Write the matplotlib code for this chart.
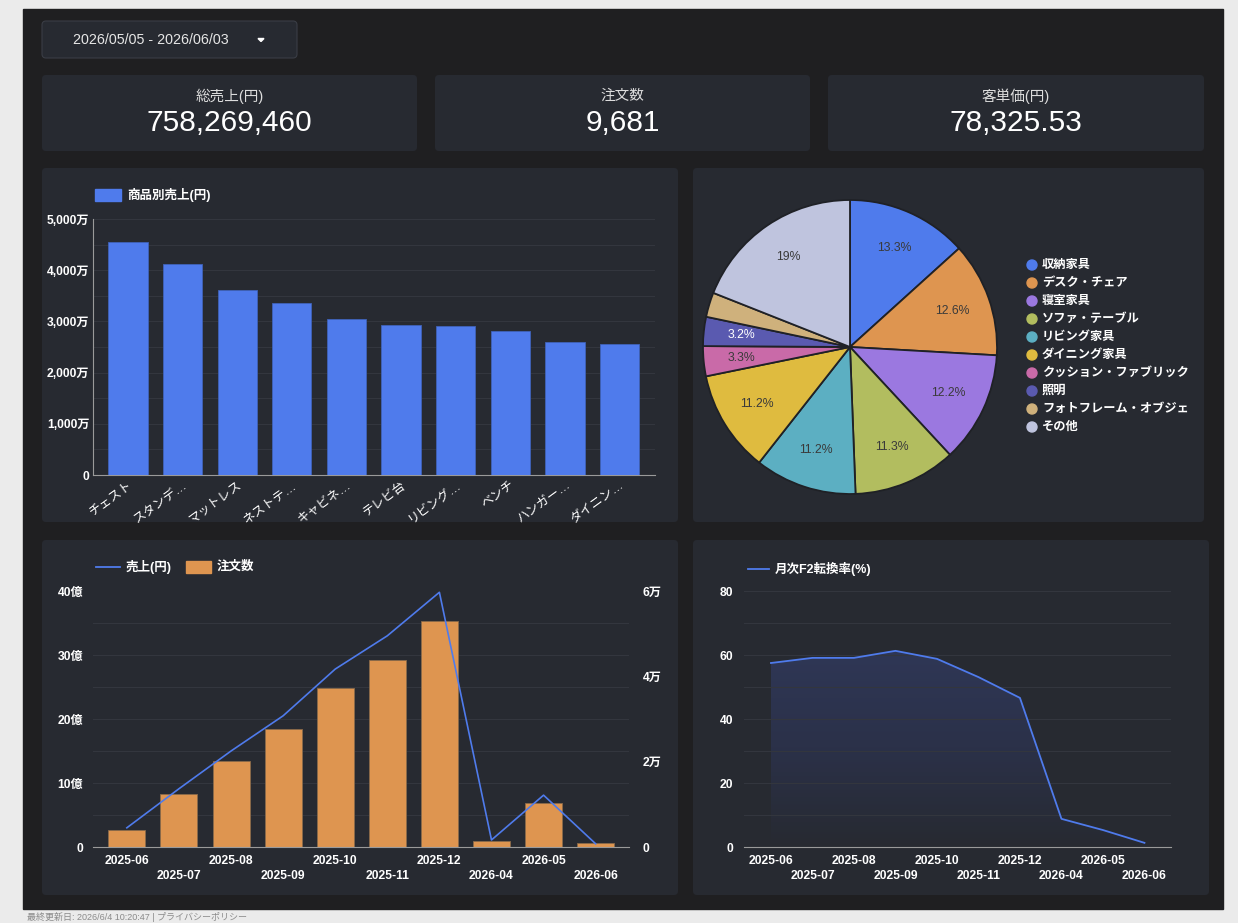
import numpy as np
import matplotlib
matplotlib.use('Agg')
import matplotlib.pyplot as plt
from matplotlib.patches import FancyBboxPatch, Rectangle, Polygon, Circle
from matplotlib.colors import LinearSegmentedColormap
from matplotlib.ticker import FuncFormatter, MultipleLocator

plt.rcParams['font.family'] = ['Liberation Sans', 'Noto Sans CJK JP', 'DejaVu Sans']

W, H = 1238, 923
PAGE = '#ebebeb'
DASH = '#1f1f21'
CARD = '#272a31'
GRID = '#33363e'
AXIS = '#9a9a9a'
BLUE = '#4f7bec'
ORANGE = '#de9550'

# --- data ---
date_range = '2026/05/05 - 2026/06/03'
kpi_titles = ['総売上(円)', '注文数', '客単価(円)']
kpi_values = ['758,269,460', '9,681', '78,325.53']

products = ['チェスト', 'スタンデ…', 'マットレス', 'ネストテ…', 'キャビネ…',
            'テレビ台', 'リビング…', 'ベンチ', 'ハンガー…', 'ダイニン…']
product_sales = [4550, 4120, 3610, 3360, 3050, 2930, 2910, 2810, 2600, 2560]  # 万円

categories = ['収納家具', 'デスク・チェア', '寝室家具', 'ソファ・テーブル', 'リビング家具',
              'ダイニング家具', 'クッション・ファブリック', '照明', 'フォトフレーム・オブジェ', 'その他']
category_share = [13.3, 12.6, 12.2, 11.3, 11.2, 11.2, 3.3, 3.2, 2.7, 19.0]
category_colors = ['#4f7bec', '#de9550', '#9b78e0', '#b2bd5f', '#5cafc2',
                   '#dfbb3f', '#c96aa8', '#5a5ab0', '#cfb17c', '#bfc4de']

months = ['2025-06', '2025-07', '2025-08', '2025-09', '2025-10',
          '2025-11', '2025-12', '2026-04', '2026-05', '2026-06']
monthly_sales = [3.0, 9.1, 15.0, 20.5, 27.8, 33.0, 39.8, 1.1, 8.1, 0.5]  # 億円
monthly_orders = [3980, 12400, 20200, 27700, 37300, 43800, 53000, 1400, 10300, 940]
f2_rate = [57.5, 59.1, 59.1, 61.3, 58.8, 53.1, 46.6, 8.8, 5.3, 1.3]

footer = '最終更新日: 2026/6/4 10:20:47 | プライバシーポリシー'


def rect(x0, y0, x1, y1):
    return [x0 / W, 1 - y1 / H, (x1 - x0) / W, (y1 - y0) / H]


def bold_ticks(ax, size=8.5):
    ax.tick_params(colors='white', length=0, labelsize=size)
    for lbl in ax.get_xticklabels() + ax.get_yticklabels():
        lbl.set_fontweight('bold')


fig = plt.figure(figsize=(W / 100, H / 100), dpi=100, facecolor=PAGE)

# background layer in pixel coordinates
bg = fig.add_axes([0, 0, 1, 1])
bg.set_xlim(0, W)
bg.set_ylim(H, 0)
bg.axis('off')
bg.add_patch(Rectangle((23, 9), 1200, 900, color=DASH))


def card(x0, y0, x1, y1, ec='none'):
    bg.add_patch(FancyBboxPatch((x0, y0), x1 - x0, y1 - y0,
                                boxstyle='round,pad=0,rounding_size=4',
                                fc=CARD, ec=ec, lw=0.8))


# date selector
card(42, 21, 297, 58, ec='#3a3d45')
bg.text(151, 40, date_range, color='#e6e6e6', fontsize=10.3, ha='center', va='center')
bg.add_patch(Polygon([[258, 38.5], [264, 38.5], [261, 41.5]], color='white'))

# KPI cards
for (x0, x1), t, v in zip([(42, 417), (435, 810), (828, 1204)], kpi_titles, kpi_values):
    card(x0, 75, x1, 151)
    cx = (x0 + x1) / 2
    bg.text(cx, 96, t, color='#dddddd', fontsize=10.5, ha='center', va='center')
    bg.text(cx, 123, v, color='white', fontsize=21.5, ha='center', va='center')

# chart cards
card(42, 168, 678, 522)
card(693, 168, 1204, 522)
card(42, 540, 678, 895)
card(693, 540, 1209, 895)

# --- product bar chart ---
ax1 = fig.add_axes(rect(93, 219, 655, 475))
ax1.set_facecolor('none')
x = np.arange(len(products))
ax1.bar(x, product_sales, width=0.72, color=BLUE, edgecolor='#3f62b8', lw=0.6, zorder=3)
ax1.set_xlim(-0.64, 9.65)
ax1.set_ylim(0, 5000)
ax1.yaxis.set_major_locator(MultipleLocator(1000))
ax1.yaxis.set_minor_locator(MultipleLocator(500))
ax1.yaxis.set_major_formatter(FuncFormatter(lambda v, p: '0' if v == 0 else f'{v:,.0f}万'))
ax1.grid(axis='y', which='both', color=GRID, lw=0.8, zorder=0)
ax1.set_xticks(x)
ax1.set_xticklabels(products, rotation=36, ha='right', rotation_mode='anchor')
for s in ['top', 'right']:
    ax1.spines[s].set_visible(False)
for s in ['left', 'bottom']:
    ax1.spines[s].set_color(AXIS)
bold_ticks(ax1, 8.7)
ax1.tick_params(axis='y', which='both', length=0, pad=2.5)
ax1.tick_params(axis='x', pad=3, labelsize=9)
for lbl in ax1.get_xticklabels():
    lbl.set_fontweight('normal')

bg.add_patch(Rectangle((95, 189), 26, 12, color=BLUE))
bg.text(127, 195, '商品別売上(円)', color='white', fontsize=9, fontweight='bold', va='center')

# --- category pie ---
ax2 = fig.add_axes(rect(703, 200, 997, 494))


def pct_label(p):
    if p < 3:
        return ''
    return f'{p:.0f}%' if abs(p - round(p)) < 0.05 else f'{p:.1f}%'


wedges, texts, autotexts = ax2.pie(category_share, colors=category_colors, startangle=90,
                                   counterclock=False, autopct=pct_label, pctdistance=0.74,
                                   wedgeprops=dict(edgecolor='#1f2126', linewidth=1.3),
                                   textprops=dict(fontsize=8.8, color='#3a3a3a'))
autotexts[7].set_color('white')
ax2.set_xlim(-1, 1)
ax2.set_ylim(-1, 1)

for i, (name, col) in enumerate(zip(categories, category_colors)):
    yy = 265 + 18 * i
    bg.add_patch(Circle((1032, yy), 5, color=col))
    bg.text(1042, yy, name, color='white', fontsize=8.8, fontweight='bold', va='center')

# --- monthly sales / orders ---
ax3 = fig.add_axes(rect(93, 591, 629, 847))
ax3b = ax3.twinx()
xm = np.arange(len(months))
ax3b.bar(xm, monthly_orders, width=0.71, color=ORANGE, edgecolor='#8a6a4a', lw=0.6, zorder=3)
ax3.plot(xm, monthly_sales, color=BLUE, lw=1.2, zorder=4)
ax3.set_zorder(ax3b.get_zorder() + 1)
ax3.patch.set_visible(False)
ax3b.set_facecolor('none')
ax3.set_xlim(-0.65, 9.64)
ax3.set_ylim(0, 40)
ax3b.set_ylim(0, 60000)
ax3.yaxis.set_major_locator(MultipleLocator(10))
ax3.yaxis.set_major_formatter(FuncFormatter(lambda v, p: '0' if v == 0 else f'{v:.0f}億'))
ax3b.yaxis.set_major_locator(MultipleLocator(20000))
ax3b.yaxis.set_minor_locator(MultipleLocator(7500))
ax3b.yaxis.set_major_formatter(FuncFormatter(lambda v, p: '0' if v == 0 else f'{v / 10000:.0f}万'))
ax3b.grid(axis='y', which='minor', color=GRID, lw=0.8, zorder=0)
ax3.set_xticks(xm)
ax3.set_xticklabels([m if i % 2 == 0 else '\n' + m for i, m in enumerate(months)], linespacing=1.35)
for a in (ax3, ax3b):
    for s in a.spines.values():
        s.set_visible(False)
ax3.spines['bottom'].set_visible(True)
ax3.spines['bottom'].set_color(AXIS)
bold_ticks(ax3, 8.7)
bold_ticks(ax3b, 8.7)
ax3.tick_params(axis='y', pad=7)
ax3.tick_params(axis='x', pad=6)
ax3b.tick_params(axis='y', which='both', length=0, pad=10)

bg.plot([96, 120], [567, 567], color=BLUE, lw=1.3)
bg.text(126, 567, '売上(円)', color='white', fontsize=9, fontweight='bold', va='center')
bg.add_patch(Rectangle((186, 561), 25, 12, color=ORANGE))
bg.text(217, 567, '注文数', color='white', fontsize=9, fontweight='bold', va='center')

# --- F2 conversion rate ---
ax4 = fig.add_axes(rect(744, 591, 1171, 847))
ax4.set_facecolor('none')
fill = ax4.fill_between(xm, f2_rate, color='none', lw=0)
cmap = LinearSegmentedColormap.from_list('f2', [CARD, '#2b3149', '#2f3756'])
grad = ax4.imshow(np.linspace(0, 1, 256).reshape(-1, 1), extent=[-0.65, 9.64, 0, 62],
                  origin='lower', aspect='auto', cmap=cmap, zorder=1)
grad.set_clip_path(fill.get_paths()[0], transform=ax4.transData)
ax4.set_xlim(-0.65, 9.64)
ax4.set_ylim(0, 80)
ax4.plot(xm, f2_rate, color=BLUE, lw=1.3, zorder=3)
ax4.yaxis.set_major_locator(MultipleLocator(20))
ax4.yaxis.set_minor_locator(MultipleLocator(10))
ax4.grid(axis='y', which='both', color=GRID, lw=0.8, zorder=0)
ax4.set_xticks(xm)
ax4.set_xticklabels([m if i % 2 == 0 else '\n' + m for i, m in enumerate(months)], linespacing=1.35)
for s in ax4.spines.values():
    s.set_visible(False)
ax4.spines['bottom'].set_visible(True)
ax4.spines['bottom'].set_color(AXIS)
bold_ticks(ax4, 8.7)
ax4.tick_params(axis='y', which='both', length=0, pad=8)
ax4.tick_params(axis='x', pad=6)

bg.plot([748, 769], [569, 569], color=BLUE, lw=1.3)
bg.text(775, 569, '月次F2転換率(%)', color='white', fontsize=9, fontweight='bold', va='center')

# footer
bg.text(27, 916.5, footer, color='#8a8a8a', fontsize=6.5, va='center')

fig.savefig('out.png', dpi=100, facecolor=PAGE)
